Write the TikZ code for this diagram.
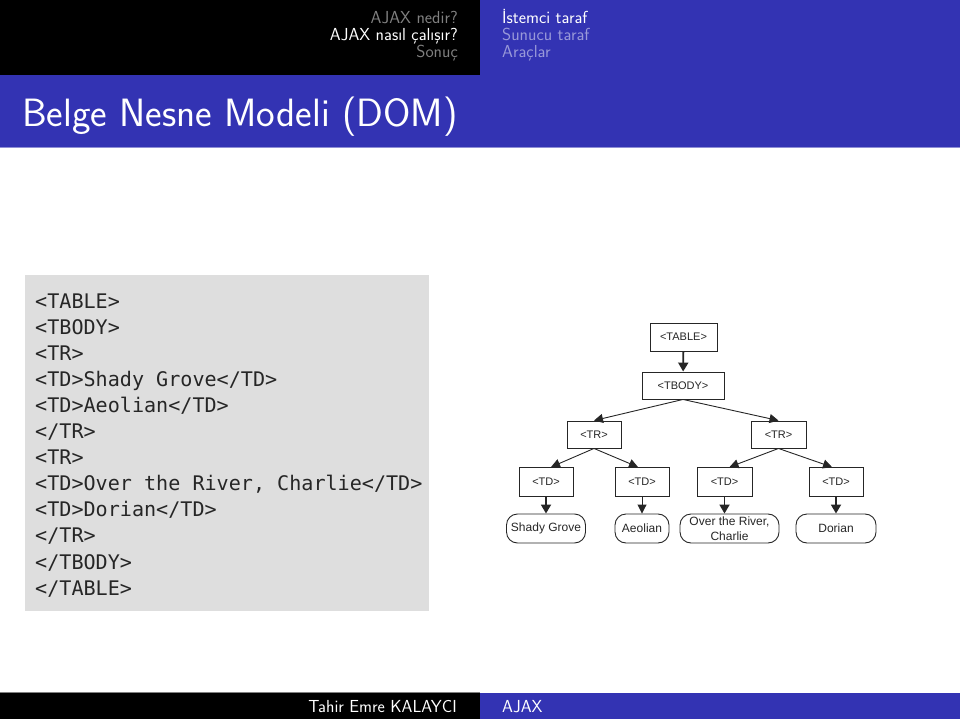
\documentclass[tikz,border=0pt]{standalone}
\usepackage{fontspec}
\usetikzlibrary{arrows.meta}
\newfontfamily\codefont{DejaVu Sans Mono}
\newfontfamily\arialfont{Liberation Sans}
\definecolor{bblue}{RGB}{51,51,179}
\definecolor{navgray}{RGB}{128,128,128}
\definecolor{navlight}{RGB}{153,153,217}
\definecolor{codebg}{RGB}{222,222,222}
\tikzset{
  navtxt/.style={inner sep=0pt, font=\fontsize{17.4}{20}\selectfont\sffamily},
  codetxt/.style={inner sep=0pt, anchor=base west, font=\fontsize{20.1}{24}\selectfont\codefont, text=black!85},
  tagbox/.style={draw=black!85, line width=0.9pt, fill=white, minimum height=28pt, inner sep=0pt, font=\fontsize{11}{13}\selectfont\arialfont, text=black!85},
  leafbox/.style={draw=black!85, line width=0.9pt, rounded corners=11pt, minimum height=29pt, inner sep=0pt, align=center, font=\fontsize{12}{13}\selectfont\arialfont, text=black!85},
  thinarr/.style={line width=0.9pt, draw=black!85, -{Triangle[length=9pt,width=9pt]}},
  thickarr/.style={line width=1.8pt, draw=black!85, -{Triangle[length=9pt,width=10pt]}}
}
\begin{document}
\begin{tikzpicture}[x=1pt,y=-1pt]
\useasboundingbox (0,0) rectangle (960,719);
% header
\fill[black] (0,0) rectangle (480,75);
\fill[bblue] (480,0) rectangle (960,75);
\fill[bblue] (0,75) rectangle (960,147);
\fill[bblue!55!white] (0,147) rectangle (960,148.5);
\node[navtxt, anchor=base east, text=navgray] (n1) at (458,24) {AJAX nedir?};
\node[navtxt, anchor=base east, text=white] (n2) at (458,41) {AJAX nasıl çalışır?};
\node[navtxt, anchor=base east, text=navgray] (n3) at (458,58) {Sonuç};
\node[navtxt, anchor=base west, text=white] (m1) at (502,24) {İstemci taraf};
\node[navtxt, anchor=base west, text=navlight] (m2) at (502,41) {Sunucu taraf};
\node[navtxt, anchor=base west, text=navlight] (m3) at (502,58) {Araçlar};
\node[inner sep=0pt, anchor=base west, text=white, font=\fontsize{39.5}{44}\selectfont\sffamily] (title) at (22,127) {Belge Nesne Modeli (DOM)};
% footer
\fill[black!50] (0,691.5) rectangle (480,692.5);
\fill[black] (0,692.5) rectangle (480,719);
\fill[bblue] (480,692.5) rectangle (960,719);
\node[navtxt, anchor=base east, text=white] (f1) at (457,712) {Tahir Emre KALAYCI};
\node[navtxt, anchor=base west, text=white] (f2) at (502,712) {AJAX};
% code box
\fill[codebg] (25,275) rectangle (429,611);
\foreach \t [count=\i from 0] in {<TABLE>,<TBODY>,<TR>,<TD>Shady Grove</TD>,<TD>Aeolian</TD>,</TR>,<TR>,{<TD>Over the River, Charlie</TD>},<TD>Dorian</TD>,</TR>,</TBODY>,</TABLE>}
  \node[codetxt] (c\i) at (35,{308+26.1*\i}) {\t};
% tree
\node[tagbox, minimum width=67pt] (tbl) at (683.5,337) {<TABLE>};
\node[tagbox, minimum width=82pt, minimum height=27pt] (tbody) at (683,385.5) {<TBODY>};
\node[tagbox, minimum width=54pt, minimum height=27pt] (tr1) at (594,434.5) {<TR>};
\node[tagbox, minimum width=55pt, minimum height=27pt] (tr2) at (778.5,434.5) {<TR>};
\node[tagbox, minimum width=54pt, minimum height=29pt] (td1) at (546,482) {<TD>};
\node[tagbox, minimum width=54pt, minimum height=29pt] (td2) at (642,482) {<TD>};
\node[tagbox, minimum width=55pt, minimum height=29pt] (td3) at (724.5,482) {<TD>};
\node[tagbox, minimum width=54pt, minimum height=29pt] (td4) at (836,482) {<TD>};
\node[leafbox, minimum width=79pt] (l1) at (546,528.5) {Shady Grove};
\node[leafbox, minimum width=54pt] (l2) at (642,528.5) {Aeolian};
\node[leafbox, minimum width=99pt, font=\fontsize{12}{14.5}\selectfont\arialfont] (l3) at (729.5,528.5) {Over the River,\\Charlie};
\node[leafbox, minimum width=80pt] (l4) at (836,528.5) {Dorian};
\draw[thickarr] (tbl) -- (tbody);
\draw[thinarr] (tbody.south) -- (tr1.north);
\draw[thinarr] (tbody.south) -- (tr2.north);
\draw[thinarr] (tr1.south) -- ([xshift=5pt]td1.north);
\draw[thinarr] (tr1.south) -- ([xshift=-4pt]td2.north);
\draw[thinarr] (tr2.south) -- ([xshift=5pt]td3.north);
\draw[thinarr] (tr2.south) -- ([xshift=-4pt]td4.north);
\draw[thickarr] (td1) -- (td1 |- l1.north);
\draw[thinarr] (td2) -- (td2 |- l2.north);
\draw[thickarr] (td3) -- (td3 |- l3.north);
\draw[thickarr] (td4) -- (td4 |- l4.north);
\end{tikzpicture}
\end{document}
